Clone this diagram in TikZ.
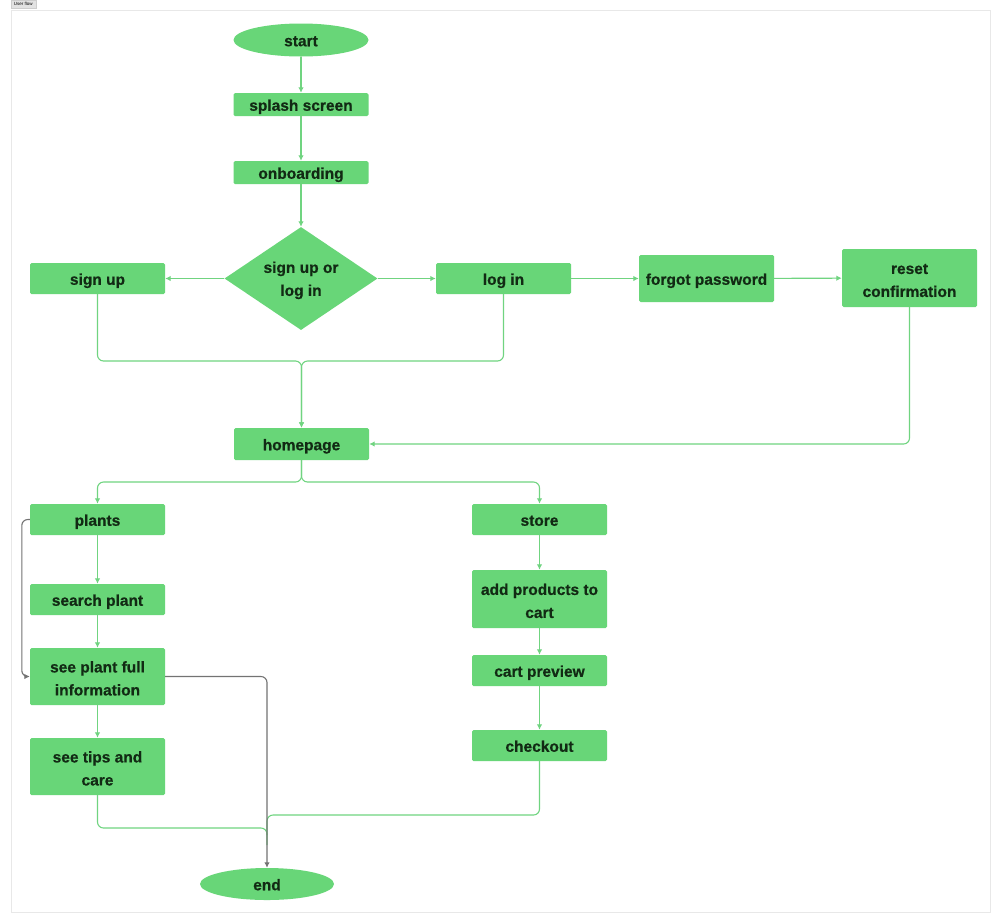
\documentclass[tikz,border=0pt]{standalone}
\usepackage{fontspec}
\setmainfont{Liberation Sans}[BoldFeatures={FakeBold=0.6}]
\usetikzlibrary{shapes.geometric,arrows.meta}
\definecolor{boxg}{RGB}{104,214,120}
\definecolor{lineg}{RGB}{112,212,128}
\definecolor{txt}{RGB}{18,42,20}
\definecolor{grayl}{RGB}{115,115,115}
\newcommand{\lowr}{\rule{0pt}{15pt}}
\tikzset{
  base/.style={fill=boxg, draw=none, text=txt, font=\fontsize{15.5}{23}\selectfont\bfseries, align=center, inner sep=0pt, minimum width=135pt},
  box/.style={base, rectangle, rounded corners=1.5pt},
  one/.style={text height=16pt, text depth=3.5pt},
  term/.style={base, one, ellipse, minimum height=33pt},
  decision/.style={base, diamond, minimum width=153pt, minimum height=103pt, aspect=1.5},
  conn/.style={draw=lineg, line width=1.1pt, rounded corners=6pt, -{Latex[length=5.5pt,width=5.5pt]}},
  plain/.style={draw=lineg, line width=1.1pt, rounded corners=6pt},
  gconn/.style={draw=grayl, line width=1.1pt, rounded corners=6pt, -{Latex[length=5.5pt,width=5.5pt]}},
}
\begin{document}
\begin{tikzpicture}[x=1pt,y=-1pt]
\useasboundingbox (0,0) rectangle (1000,922);
\fill[white] (0,0) rectangle (1000,922);
\draw[draw={rgb,255:red,232;green,232;blue,232}, line width=0.8pt] (11,10) rectangle (990,912);
\node[fill={rgb,255:red,226;green,226;blue,226}, draw={rgb,255:red,205;green,205;blue,205}, line width=0.3pt, inner sep=0.5pt, font=\fontsize{4.5}{5}\selectfont, anchor=north west, minimum width=25pt, minimum height=8pt] (tab) at (10.5,0) {User flow};

\node[term] (start) at (301,40) {start};
\node[box, one, minimum height=23pt] (splash) at (301,104.5) {splash screen};
\node[box, one, minimum height=23pt] (onb) at (301,172.5) {onboarding};
\node[decision] (dec) at (301,278.5) {\lowr sign up or\\log in};
\node[box, one, minimum height=31pt] (signup) at (97.5,278.5) {sign up};
\node[box, one, minimum height=31pt] (login) at (503.5,278.5) {log in};
\node[box, one, minimum height=47pt] (forgot) at (706.5,278.5) {forgot password};
\node[box, minimum height=58pt] (reset) at (909.5,278) {\lowr reset\\confirmation};
\node[box, one, minimum height=32pt] (home) at (301.5,444) {homepage};
\node[box, one, minimum height=31pt] (plants) at (97.5,519.5) {plants};
\node[box, one, minimum height=31pt] (store) at (539.5,519.5) {store};
\node[box, one, minimum height=31pt] (search) at (97.5,599.5) {search plant};
\node[box, minimum height=57pt] (info) at (97.5,676.5) {\lowr see plant full\\information};
\node[box, minimum height=57pt] (tips) at (97.5,766.5) {\lowr see tips and\\care};
\node[box, minimum height=58pt] (cart) at (539.5,599) {\lowr add products to\\cart};
\node[box, one, minimum height=31pt] (preview) at (539.5,670.5) {cart preview};
\node[box, one, minimum height=31pt] (checkout) at (539.5,745.5) {checkout};
\node[term, minimum width=134pt, minimum height=32pt] (end) at (267,884) {end};

\coordinate (j1) at (301.5,361);
\coordinate (j2) at (301.5,482);
\coordinate (m1) at (267,828);
\coordinate (m1b) at (267,845);
\coordinate (m2) at (267,815);
\coordinate (m2b) at (267,835);

\draw[conn] (start) -- (splash);
\draw[conn] (splash) -- (onb);
\draw[conn] (onb) -- (dec);
\draw[conn] (dec) -- (signup);
\draw[conn] (dec) -- (login);
\draw[conn] (login) -- (forgot);
\draw[conn] (forgot) -- (reset);
\draw[conn] (signup.south) |- (j1) -- (home.north);
\draw[conn] (login.south) |- (j1) -- (home.north);
\draw[conn] (reset.south) |- (home.east);
\draw[conn] (home.south) -- (j2) -| (plants.north);
\draw[conn] (home.south) -- (j2) -| (store.north);
\draw[conn] (plants) -- (search);
\draw[conn] (search) -- (info);
\draw[conn] (info) -- (tips);
\draw[conn] (store) -- (cart);
\draw[conn] (cart) -- (preview);
\draw[conn] (preview) -- (checkout);
\draw[plain] (tips.south) |- (m1) -- (m1b);
\draw[plain] (checkout.south) |- (m2) -- (m2b);
\draw[gconn] (plants.west) -- ++(-8,0) |- (info.west);
\draw[gconn] (info.east) -| (end.north);
\end{tikzpicture}
\end{document}
